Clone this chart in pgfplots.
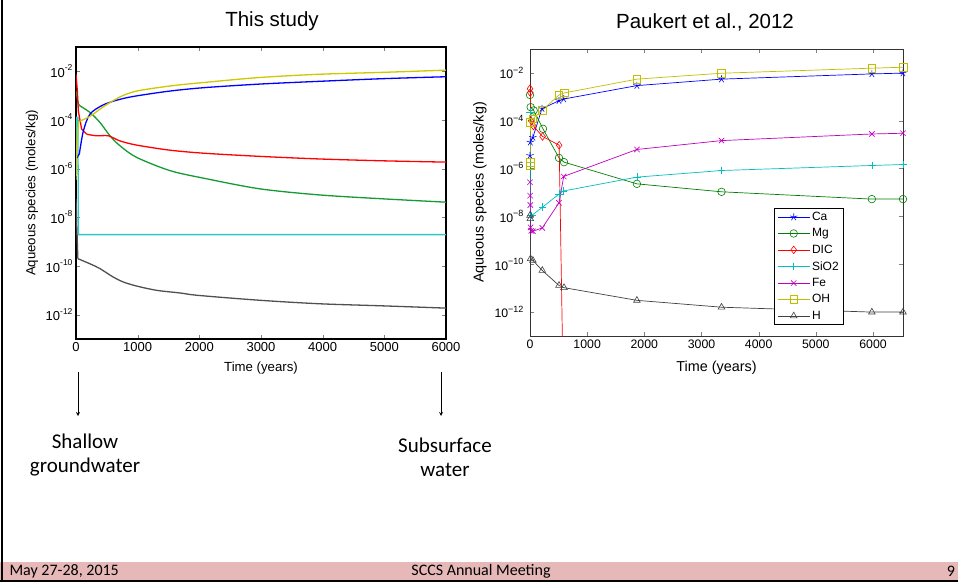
\documentclass[border=0pt]{standalone}
\usepackage{fontspec}
\setmainfont{Liberation Sans}
\newfontfamily\calibri{Carlito}
\usepackage{pgfplots}
\pgfplotsset{compat=1.18}

% colours of the two charts
\definecolor{lblue}{RGB}{0,0,255}
\definecolor{lgreen}{RGB}{20,155,50}
\definecolor{lred}{RGB}{255,0,0}
\definecolor{lyellow}{RGB}{205,200,0}
\definecolor{lcyan}{RGB}{50,200,200}
\definecolor{lgray}{RGB}{80,80,80}
\definecolor{rblue}{RGB}{0,0,255}
\definecolor{rgreen}{RGB}{0,128,0}
\definecolor{rred}{RGB}{255,0,0}
\definecolor{rcyan}{RGB}{0,191,191}
\definecolor{rmag}{RGB}{191,0,191}
\definecolor{rolive}{RGB}{191,191,0}
\definecolor{rgray}{RGB}{64,64,64}
\definecolor{footpink}{HTML}{E6B9B8}

\newcommand{\ex}[1]{\raisebox{0.5em}{\fontsize{8.5}{9}\selectfont#1}}
\newcommand{\rx}[1]{\raisebox{0.45em}{\fontsize{9}{9}\selectfont#1}}

\begin{document}
\begin{tikzpicture}[x=1pt,y=1pt]
\useasboundingbox (0,0) rectangle (958,582);
\fill[white] (0,0) rectangle (958,582);

% slide frame and footer
\fill[footpink] (0,2) rectangle (958,20);
\draw[line width=1.5pt] (0,1.2) -- (958,1.2);
\draw[line width=2pt] (2,0) -- (2,582);
\node[font=\calibri\fontsize{16}{18}\selectfont, anchor=west] at (6,11) {May 27-28, 2015};
\node[font=\calibri\fontsize{16}{18}\selectfont] at (481,11) {SCCS Annual Meeting};
\node[font=\calibri\fontsize{16}{18}\selectfont] at (951,11) {9};

% titles
\node[font=\fontsize{20.5}{22}\selectfont] at (272,561) {This study};
\node[font=\fontsize{20.5}{22}\selectfont] at (705,560) {Paukert et al., 2012};

% arrows and notes
\draw[-stealth, line width=0.8pt] (78,210) -- (78,166);
\draw[-stealth, line width=0.8pt] (441,210) -- (441,166);
\node[font=\calibri\fontsize{21}{24}\selectfont, align=center] at (85,127) {Shallow\\groundwater};
\node[font=\calibri\fontsize{21}{24}\selectfont, align=center] at (445,125) {Subsurface\\water};

% ---- left: this study ----
\begin{axis}[
  at={(76pt,243pt)}, anchor=south west,
  scale only axis, width=370pt, height=292pt,
  ymode=log, xmin=0, xmax=6000, ymin=1e-13, ymax=1e-1,
  xtick={0,1000,2000,3000,4000,5000,6000},
  xticklabels={0,1000,2000,3000,4000,5000,6000},
  scaled x ticks=false,
  ytick={1e-12,1e-10,1e-8,1e-6,1e-4,1e-2},
  yticklabels={10\ex{-12},10\ex{-10},10\ex{-8},10\ex{-6},10\ex{-4},10\ex{-2}},
  yminorticks=false,
  tick align=inside, major tick length=4pt,
  ticklabel style={font=\fontsize{13}{14}\selectfont},
  axis line style={line width=1.2pt},
  xlabel={Time (years)}, ylabel={Aqueous species (moles/kg)},
  label style={font=\fontsize{13.2}{15}\selectfont},
  xlabel style={at={(axis description cs:0.5,-0.099)}, anchor=center},
  ylabel style={at={(axis description cs:-0.119,0.5)}, anchor=center},
  every axis plot/.append style={line width=1.3pt, no markers},
]
% H
\addplot[lgray] coordinates {(0,5.6e-8)(30,2e-10)};
\addplot[lgray, smooth, tension=0.5] coordinates {(30,2e-10)(227,1.23e-10)(389,7.8e-11)(605,3.5e-11)(768,2.2e-11)(984,1.5e-11)(1309,1e-11)(1687,7.8e-12)(1984,6.2e-12)(2984,3.9e-12)(3957,2.8e-12)(4984,2.3e-12)(6000,1.86e-12)};
% SiO2
\addplot[lcyan] coordinates {(0,1e-6)(5,1.3e-4)(30,1.3e-4)(40,1.95e-9)(6000,1.95e-9)};
% Mg
\addplot[lgreen] coordinates {(0,1.55e-3)(38,4.5e-4)(65,3.8e-4)};
\addplot[lgreen, smooth, tension=0.5] coordinates {(65,3.8e-4)(227,2.04e-4)(389,7.9e-5)(551,2.24e-5)(714,8.7e-6)(984,2.9e-6)(1525,8.3e-7)(2083,4.0e-7)(2984,1.48e-7)(3957,8.3e-8)(4984,5.75e-8)(6000,4.2e-8)};
% DIC
\addplot[lred] coordinates {(0,7.6e-3)(22,1.55e-3)(38,2.3e-4)(92,4.2e-5)(173,2.6e-5)};
\addplot[lred, smooth, tension=0.5] coordinates {(173,2.6e-5)(335,2.24e-5)(524,2.24e-5)(714,1.38e-5)(984,9.3e-6)(1525,5.75e-6)(2083,4.3e-6)(2984,3.2e-6)(3957,2.5e-6)(4984,2.1e-6)(6000,1.86e-6)};
% Ca
\addplot[lblue] coordinates {(0,2.5e-6)(54,4.0e-6)};
\addplot[lblue, smooth, tension=0.5] coordinates {(54,4.0e-6)(119,3.5e-5)(227,1.75e-4)(443,4.2e-4)(714,7.1e-4)(984,9.8e-4)(1525,1.55e-3)(2083,2.14e-3)(2984,3.0e-3)(3957,3.9e-3)(4984,5.0e-3)(6000,6.0e-3)};
% OH
\addplot[lyellow] coordinates {(0,3.5e-7)(15,1e-5)(40,7.9e-5)(65,9.1e-5)};
\addplot[lyellow, smooth, tension=0.5] coordinates {(65,9.1e-5)(227,1.41e-4)(443,3.5e-4)(714,8.9e-4)(984,1.55e-3)(1525,2.5e-3)(2083,3.5e-3)(2984,5.6e-3)(3957,7.6e-3)(4984,9.1e-3)(6000,1.12e-2)};
\end{axis}

% ---- right: Paukert et al., 2012 ----
\begin{axis}[
  at={(530pt,246pt)}, anchor=south west,
  scale only axis, width=373pt, height=287pt,
  ymode=log, xmin=0, xmax=6525, ymin=1e-13, ymax=1e-1,
  xtick={0,1000,2000,3000,4000,5000,6000},
  xticklabels={0,1000,2000,3000,4000,5000,6000},
  scaled x ticks=false,
  ytick={1e-12,1e-10,1e-8,1e-6,1e-4,1e-2},
  yticklabels={10\rx{−12},10\rx{−10},10\rx{−8},10\rx{−6},10\rx{−4},10\rx{−2}},
  yminorticks=false,
  tick align=inside, major tick length=4pt,
  ticklabel style={font=\fontsize{12.3}{14}\selectfont},
  yticklabel style={xshift=-3pt},
  axis line style={line width=0.8pt, black!80},
  xlabel={Time (years)}, ylabel={Aqueous species (moles/kg)},
  label style={font=\fontsize{14.4}{16}\selectfont},
  xlabel style={at={(axis description cs:0.5,-0.111)}, anchor=center},
  ylabel style={at={(axis description cs:-0.134,0.5)}, anchor=center},
  every axis plot/.append style={line width=0.7pt, mark size=3.8pt, mark options={solid, line width=0.6pt}},
  legend cell align=left,
  legend style={at={(axis description cs:0.654,0.447)}, anchor=north west,
    font=\fontsize{12}{13}\selectfont, draw=black, line width=0.8pt, row sep=2.6pt},
  legend image code/.code={
    \draw[mark=none] (0pt,0pt) -- (32pt,0pt);
    \draw[only marks, mark indices={1}] plot coordinates {(16pt,0pt)};},
]
\addplot[rblue, mark=star] coordinates {(0,3.5e-6)(5,1.26e-5)(50,2.0e-5)(210,3.2e-4)(507,6.9e-4)(590,8.1e-4)(1870,2.95e-3)(3350,5.5e-3)(5980,9.1e-3)(6525,9.8e-3)};
\addlegendentry{Ca}
\addplot[rgreen, mark=o] coordinates {(0,1.2e-3)(12,3.7e-4)(64,2.7e-4)(227,4.6e-5)(507,2.8e-6)(595,1.86e-6)(1870,2.3e-7)(3350,1.07e-7)(5980,5.3e-8)(6525,5.3e-8)};
\addlegendentry{Mg}
\addplot[rred, mark=diamond, mark indices={1,2,3,4,5,6}] coordinates {(0,2.2e-3)(5,1.5e-3)(20,1.0e-4)(60,6e-5)(220,2.2e-5)(510,9.5e-6)(568,5e-14)};
\addlegendentry{DIC}
\addplot[rcyan, mark=+] coordinates {(0,2.3e-4)(8,1.1e-8)(30,1.1e-8)(220,2.45e-8)(510,8.7e-8)(580,1.15e-7)(1870,4.4e-7)(3350,8.3e-7)(5980,1.35e-6)(6525,1.48e-6)};
\addlegendentry{SiO2}
\addplot[rmag, mark=x] coordinates {(0,2.7e-7)(3,7.4e-8)(6,3e-8)(10,3.5e-9)(20,2.5e-9)(50,2.4e-9)(215,3.3e-9)(507,3.7e-8)(590,4.7e-7)(1870,6.3e-6)(3350,1.48e-5)(5980,2.8e-5)(6525,3.0e-5)};
\addlegendentry{Fe}
\addplot[rolive, mark=square] coordinates {(0,1.3e-6)(3,1.86e-6)(8,8.7e-5)(50,1.2e-4)(220,2.8e-4)(507,1.2e-3)(595,1.45e-3)(1870,5.5e-3)(3350,9.7e-3)(5980,1.58e-2)(6525,1.73e-2)};
\addlegendentry{OH}
\addplot[rgray, mark=triangle] coordinates {(0,1.1e-8)(5,8e-9)(10,1.7e-10)(50,1.45e-10)(215,5.5e-11)(507,1.3e-11)(595,1.05e-11)(1870,3.1e-12)(3350,1.6e-12)(5980,1e-12)(6525,1e-12)};
\addlegendentry{H}
\end{axis}
\end{tikzpicture}
\end{document}
